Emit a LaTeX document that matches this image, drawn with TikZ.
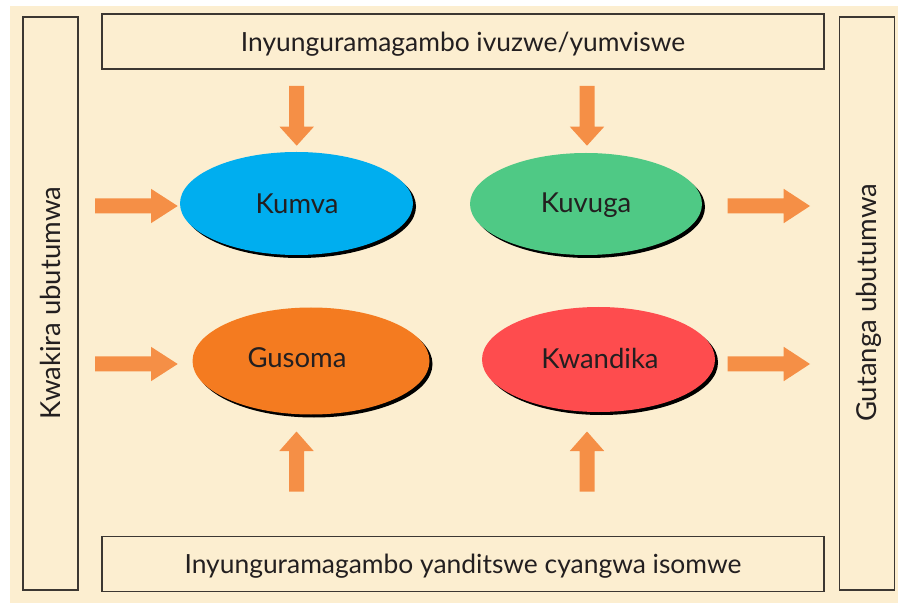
\documentclass[tikz,border=0pt]{standalone}
\usepackage{fontspec}
\setmainfont{Lato}
\usetikzlibrary{shapes.geometric,shadows}
\definecolor{cream}{RGB}{252,238,208}
\definecolor{arrowc}{RGB}{245,143,70}
\definecolor{kblue}{RGB}{0,174,239}
\definecolor{kgreen}{RGB}{79,201,133}
\definecolor{korange}{RGB}{244,123,32}
\definecolor{kred}{RGB}{254,76,78}
\definecolor{ink}{RGB}{35,31,32}
\definecolor{boxline}{RGB}{60,55,50}
\begin{document}
\begin{tikzpicture}[x=1pt,y=-1pt,
  frame/.style={draw=boxline, line width=1.2pt, inner sep=0pt},
  txt/.style={text=ink, inner sep=0pt, font=\fontsize{26.4}{30}\selectfont},
  btxt/.style={text=ink, inner sep=0pt, font=\fontsize{27.5}{31}\selectfont},
  blob/.style={ellipse, inner sep=0pt, drop shadow={shadow xshift=3pt, shadow yshift=-3pt, fill=black, opacity=1}},
  pics/barrow/.style 2 args={code={\fill[arrowc] (0,-7.5) -- (#1,-7.5) -- (#1,-17.2) -- ({#1+#2},0) -- (#1,17.2) -- (#1,7.5) -- (0,7.5) -- cycle;}},
]
\useasboundingbox (0,0) rectangle (898,604);
\fill[white] (0,0) rectangle (898,604);
\fill[cream] (10,6) rectangle (898,603);

% frames
\node[frame, minimum width=55pt, minimum height=573pt] (leftbox) at (50.5,303.5) {};
\node[frame, minimum width=55pt, minimum height=573pt] (rightbox) at (867,303.5) {};
\node[frame, minimum width=722pt, minimum height=55pt] (topbox) at (463,41.5) {};
\node[frame, minimum width=722pt, minimum height=55pt] (botbox) at (463,564) {};

\node[btxt, rotate=90] (lefttxt) at (50,303) {Kwakira ubutumwa};
\node[btxt, rotate=90] (righttxt) at (869,303) {Gutanga ubutumwa};
\node[txt] (toptxt) at (463,44) {Inyunguramagambo ivuzwe/yumviswe};
\node[txt] (bottxt) at (463,566) {Inyunguramagambo yanditswe cyangwa isomwe};

% ellipses
\node[blob, fill=kblue, minimum width=233pt, minimum height=103pt] (kumva) at (296.5,203.5) {};
\node[blob, fill=kgreen, minimum width=232pt, minimum height=102pt] (kuvuga) at (586,204) {};
\node[blob, fill=korange, minimum width=237pt, minimum height=107pt] (gusoma) at (311,361) {};
\node[blob, fill=kred, minimum width=233pt, minimum height=105pt] (kwandika) at (598.5,359.5) {};

\node[btxt] (kumvatxt) at (297,204) {Kumva};
\node[btxt] (kuvugatxt) at (586,205) {Kuvuga};
\node[btxt] (gusomatxt) at (297,358) {Gusoma};
\node[btxt] (kwandikatxt) at (600,358) {Kwandika};

% block arrows
\pic at (95,206) {barrow={56}{26.7}};
\pic at (95,364) {barrow={56}{26.7}};
\pic at (727.7,206) {barrow={56}{26.3}};
\pic at (727.7,364) {barrow={56}{26.3}};
\pic[rotate=-90] at (296.7,86) {barrow={40.7}{19}};
\pic[rotate=-90] at (587,86) {barrow={40.7}{19}};
\pic[rotate=90] at (296.5,491.7) {barrow={40.7}{19.5}};
\pic[rotate=90] at (587,491.7) {barrow={40.7}{19.5}};
\end{tikzpicture}
\end{document}
